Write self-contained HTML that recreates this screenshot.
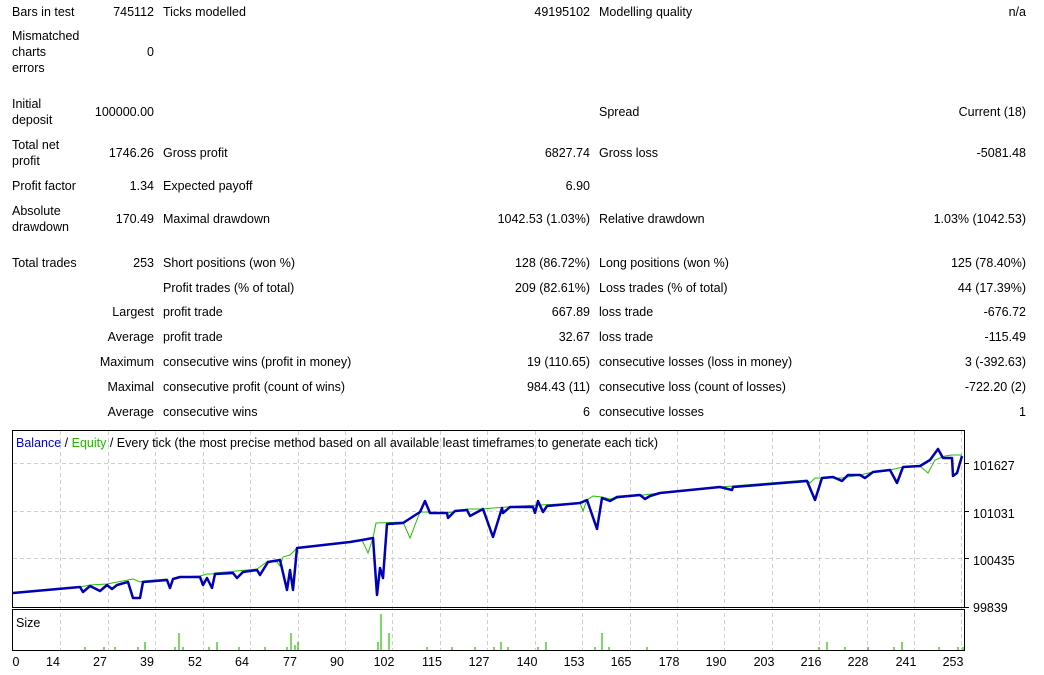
<!DOCTYPE html>
<html><head><meta charset="utf-8"><style>
body{margin:0;width:1044px;height:675px;background:#fff;position:relative;overflow:hidden;font-family:"Liberation Sans","DejaVu Sans",sans-serif;font-size:12.5px;color:#000}
.t{position:absolute;line-height:16px;white-space:nowrap}
.r{text-align:right}
</style></head><body>
<div class="t" style="left:12px;top:4px">Bars in test</div>
<div class="t r" style="right:890px;top:4px">745112</div>
<div class="t" style="left:163px;top:4px">Ticks modelled</div>
<div class="t r" style="right:454px;top:4px">49195102</div>
<div class="t" style="left:599px;top:4px">Modelling quality</div>
<div class="t r" style="right:18px;top:4px">n/a</div>

<div class="t" style="left:12px;top:28px">Mismatched</div>
<div class="t" style="left:12px;top:44px">charts</div>
<div class="t" style="left:12px;top:60px">errors</div>
<div class="t r" style="right:890px;top:44px">0</div>

<div class="t" style="left:12px;top:96px">Initial</div>
<div class="t" style="left:12px;top:112px">deposit</div>
<div class="t r" style="right:890px;top:104px">100000.00</div>
<div class="t" style="left:599px;top:104px">Spread</div>
<div class="t r" style="right:18px;top:104px">Current (18)</div>

<div class="t" style="left:12px;top:137px">Total net</div>
<div class="t" style="left:12px;top:153px">profit</div>
<div class="t r" style="right:890px;top:145px">1746.26</div>
<div class="t" style="left:163px;top:145px">Gross profit</div>
<div class="t r" style="right:454px;top:145px">6827.74</div>
<div class="t" style="left:599px;top:145px">Gross loss</div>
<div class="t r" style="right:18px;top:145px">-5081.48</div>

<div class="t" style="left:12px;top:178px">Profit factor</div>
<div class="t r" style="right:890px;top:178px">1.34</div>
<div class="t" style="left:163px;top:178px">Expected payoff</div>
<div class="t r" style="right:454px;top:178px">6.90</div>

<div class="t" style="left:12px;top:203px">Absolute</div>
<div class="t" style="left:12px;top:219px">drawdown</div>
<div class="t r" style="right:890px;top:211px">170.49</div>
<div class="t" style="left:163px;top:211px">Maximal drawdown</div>
<div class="t r" style="right:454px;top:211px">1042.53 (1.03%)</div>
<div class="t" style="left:599px;top:211px">Relative drawdown</div>
<div class="t r" style="right:18px;top:211px">1.03% (1042.53)</div>

<div class="t" style="left:12px;top:255px">Total trades</div>
<div class="t r" style="right:890px;top:255px">253</div>
<div class="t" style="left:163px;top:255px">Short positions (won %)</div>
<div class="t r" style="right:454px;top:255px">128 (86.72%)</div>
<div class="t" style="left:599px;top:255px">Long positions (won %)</div>
<div class="t r" style="right:18px;top:255px">125 (78.40%)</div>

<div class="t" style="left:163px;top:280px">Profit trades (% of total)</div>
<div class="t r" style="right:454px;top:280px">209 (82.61%)</div>
<div class="t" style="left:599px;top:280px">Loss trades (% of total)</div>
<div class="t r" style="right:18px;top:280px">44 (17.39%)</div>

<div class="t r" style="right:890px;top:304px">Largest</div>
<div class="t" style="left:163px;top:304px">profit trade</div>
<div class="t r" style="right:454px;top:304px">667.89</div>
<div class="t" style="left:599px;top:304px">loss trade</div>
<div class="t r" style="right:18px;top:304px">-676.72</div>

<div class="t r" style="right:890px;top:329px">Average</div>
<div class="t" style="left:163px;top:329px">profit trade</div>
<div class="t r" style="right:454px;top:329px">32.67</div>
<div class="t" style="left:599px;top:329px">loss trade</div>
<div class="t r" style="right:18px;top:329px">-115.49</div>

<div class="t r" style="right:890px;top:354px">Maximum</div>
<div class="t" style="left:163px;top:354px">consecutive wins (profit in money)</div>
<div class="t r" style="right:454px;top:354px">19 (110.65)</div>
<div class="t" style="left:599px;top:354px">consecutive losses (loss in money)</div>
<div class="t r" style="right:18px;top:354px">3 (-392.63)</div>

<div class="t r" style="right:890px;top:379px">Maximal</div>
<div class="t" style="left:163px;top:379px">consecutive profit (count of wins)</div>
<div class="t r" style="right:454px;top:379px">984.43 (11)</div>
<div class="t" style="left:599px;top:379px">consecutive loss (count of losses)</div>
<div class="t r" style="right:18px;top:379px">-722.20 (2)</div>

<div class="t r" style="right:890px;top:404px">Average</div>
<div class="t" style="left:163px;top:404px">consecutive wins</div>
<div class="t r" style="right:454px;top:404px">6</div>
<div class="t" style="left:599px;top:404px">consecutive losses</div>
<div class="t r" style="right:18px;top:404px">1</div>

<svg style="position:absolute;left:0;top:0" width="1044" height="675" font-family="Liberation Sans, DejaVu Sans, sans-serif" font-size="12.5">
<g stroke="#cfcfcf" stroke-dasharray="4,3" stroke-width="1">
<line x1="60.5" y1="431" x2="60.5" y2="650"/><line x1="108.5" y1="431" x2="108.5" y2="650"/><line x1="155.5" y1="431" x2="155.5" y2="650"/><line x1="203.5" y1="431" x2="203.5" y2="650"/><line x1="250.5" y1="431" x2="250.5" y2="650"/><line x1="298.5" y1="431" x2="298.5" y2="650"/><line x1="345.5" y1="431" x2="345.5" y2="650"/><line x1="392.5" y1="431" x2="392.5" y2="650"/><line x1="440.5" y1="431" x2="440.5" y2="650"/><line x1="487.5" y1="431" x2="487.5" y2="650"/><line x1="535.5" y1="431" x2="535.5" y2="650"/><line x1="582.5" y1="431" x2="582.5" y2="650"/><line x1="630.5" y1="431" x2="630.5" y2="650"/><line x1="677.5" y1="431" x2="677.5" y2="650"/><line x1="724.5" y1="431" x2="724.5" y2="650"/><line x1="772.5" y1="431" x2="772.5" y2="650"/><line x1="819.5" y1="431" x2="819.5" y2="650"/><line x1="867.5" y1="431" x2="867.5" y2="650"/><line x1="914.5" y1="431" x2="914.5" y2="650"/><line x1="961.5" y1="431" x2="961.5" y2="650"/>
<line x1="13" y1="463.5" x2="964" y2="463.5"/><line x1="13" y1="511.5" x2="964" y2="511.5"/><line x1="13" y1="558.5" x2="964" y2="558.5"/>
</g>
<rect x="12.5" y="430.5" width="952" height="177" fill="none" stroke="#000" stroke-width="1"/>
<rect x="12.5" y="609.5" width="952" height="41" fill="none" stroke="#000" stroke-width="1"/>
<g stroke="#000"><line x1="965" y1="463.5" x2="969" y2="463.5"/><line x1="965" y1="511.5" x2="969" y2="511.5"/><line x1="965" y1="558.5" x2="969" y2="558.5"/><line x1="965" y1="607.5" x2="969" y2="607.5"/></g>
<text x="16" y="447"><tspan fill="#0000c8">Balance</tspan><tspan fill="#000"> / </tspan><tspan fill="#22b400">Equity</tspan><tspan fill="#000"> / Every tick (the most precise method based on all available least timeframes to generate each tick)</tspan></text>
<text x="16" y="627">Size</text>
<g text-anchor="start"><text x="973" y="470">101627</text><text x="973" y="518">101031</text><text x="973" y="565">100435</text><text x="973" y="612">99839</text></g>
<g text-anchor="middle"><text x="16" y="666">0</text><text x="53" y="666">14</text><text x="100" y="666">27</text><text x="147" y="666">39</text><text x="195" y="666">52</text><text x="242" y="666">64</text><text x="290" y="666">77</text><text x="337" y="666">90</text><text x="384" y="666">102</text><text x="432" y="666">115</text><text x="479" y="666">127</text><text x="527" y="666">140</text><text x="574" y="666">153</text><text x="621" y="666">165</text><text x="669" y="666">178</text><text x="716" y="666">190</text><text x="764" y="666">203</text><text x="811" y="666">216</text><text x="858" y="666">228</text><text x="906" y="666">241</text><text x="953" y="666">253</text></g>
<polyline fill="none" stroke="#22c000" stroke-width="1" points="13,593 80,587 90,585 107,584 128,580 133,579 140,582 143,581 167,579 170,588 173,579 180,577 200,576 207,574 212,574 215,573 257,569 268,561 277,562 280,566 283,557 290,555 297,548 362,540 368,553 373,538 376,523 403,522 410,538 420,512 425,512 447,513 467,509 483,509 493,508 520,506 580,503 583,511 587,500 593,496 602,497 610,499 660,493 720,487 807,480 810,483 815,478 842,478 860,475 873,472 890,470 903,467 920,466 928,473 935,460 945,456 952,455 962,455"/>
<polyline fill="none" stroke="#0000b4" stroke-width="2.5" stroke-linejoin="round" points="13,593 80,587 83,592 90,586 100,591 107,585 112,589 117,585 128,582 133,598 140,598 143,582 167,580 170,588 173,579 180,577 200,577 203,585 207,578 212,588 215,574 233,573 237,578 243,572 257,570 260,575 268,562 280,560 287,590 290,570 293,590 297,548 350,542 362,540 373,538 377,595 380,568 383,578 387,524 403,523 420,512 425,501 430,513 447,513 448,518 455,511 467,510 470,516 483,509 493,537 502,508 503,513 510,507 533,507 535,513 538,501 543,512 547,506 580,503 587,500 597,529 602,498 610,501 617,497 640,495 645,499 650,496 660,493 720,487 732,490 733,487 807,481 815,500 822,478 833,477 842,481 848,475 860,475 865,478 873,472 890,470 897,483 903,467 920,466 930,460 938,449 943,458 952,458 953,476 957,473 962,456"/>
<g stroke="#22c000" stroke-width="1.2">
<line x1="85" y1="650" x2="85" y2="647"/><line x1="104" y1="650" x2="104" y2="647"/><line x1="115" y1="650" x2="115" y2="647"/><line x1="138" y1="650" x2="138" y2="647"/><line x1="145" y1="650" x2="145" y2="642"/><line x1="175" y1="650" x2="175" y2="647"/><line x1="179" y1="650" x2="179" y2="633"/><line x1="183" y1="650" x2="183" y2="647"/><line x1="209" y1="650" x2="209" y2="647"/><line x1="217" y1="650" x2="217" y2="642"/><line x1="239" y1="650" x2="239" y2="647"/><line x1="265" y1="650" x2="265" y2="647"/><line x1="287" y1="650" x2="287" y2="647"/><line x1="291" y1="650" x2="291" y2="633"/><line x1="295" y1="650" x2="295" y2="645"/><line x1="298" y1="650" x2="298" y2="642"/><line x1="378" y1="650" x2="378" y2="642"/><line x1="381" y1="650" x2="381" y2="614"/><line x1="389" y1="650" x2="389" y2="633"/><line x1="427" y1="650" x2="427" y2="647"/><line x1="452" y1="650" x2="452" y2="647"/><line x1="475" y1="650" x2="475" y2="647"/><line x1="494" y1="650" x2="494" y2="647"/><line x1="501" y1="650" x2="501" y2="642"/><line x1="508" y1="650" x2="508" y2="647"/><line x1="538" y1="650" x2="538" y2="647"/><line x1="546" y1="650" x2="546" y2="642"/><line x1="595" y1="650" x2="595" y2="647"/><line x1="602" y1="650" x2="602" y2="633"/><line x1="609" y1="650" x2="609" y2="647"/><line x1="647" y1="650" x2="647" y2="647"/><line x1="819" y1="650" x2="819" y2="647"/><line x1="827" y1="650" x2="827" y2="642"/><line x1="845" y1="650" x2="845" y2="647"/><line x1="868" y1="650" x2="868" y2="647"/><line x1="894" y1="650" x2="894" y2="647"/><line x1="902" y1="650" x2="902" y2="642"/><line x1="939" y1="650" x2="939" y2="647"/><line x1="958" y1="650" x2="958" y2="647"/><line x1="963" y1="650" x2="963" y2="647"/>
</g>
</svg>
</body></html>
